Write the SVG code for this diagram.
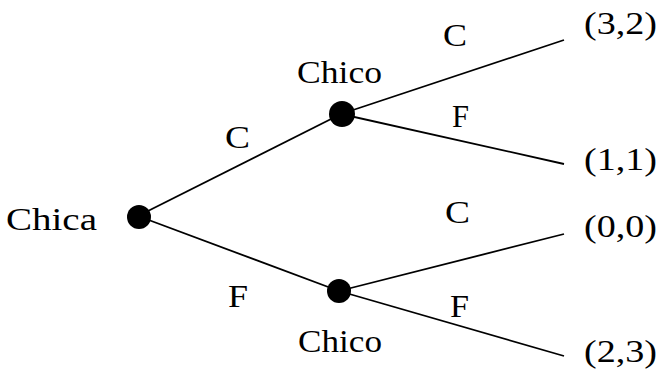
<svg xmlns="http://www.w3.org/2000/svg" width="661" height="370" viewBox="0 0 661 370">
<style>
text{font-family:"Liberation Serif","Times New Roman",serif;font-size:31px;fill:#000}
.e{stroke:#000;stroke-width:1.8;fill:none}
.n{fill:#000}
</style>
<rect width="661" height="370" fill="#fff"/>
<g id="connectors">
<line class="e" x1="138" y1="216" x2="341" y2="114"/>
<line class="e" x1="138" y1="216" x2="339" y2="291"/>
<line class="e" x1="341" y1="114" x2="564" y2="40"/>
<line class="e" x1="341" y1="114" x2="564" y2="164"/>
<line class="e" x1="339" y1="291" x2="564" y2="234"/>
<line class="e" x1="339" y1="291" x2="564" y2="356"/>
<text x="225" y="148" textLength="25" lengthAdjust="spacingAndGlyphs">C</text>
<text x="228" y="307" textLength="20" lengthAdjust="spacingAndGlyphs">F</text>
<text x="443" y="46" textLength="24" lengthAdjust="spacingAndGlyphs">C</text>
<text x="452" y="127" textLength="17" lengthAdjust="spacingAndGlyphs">F</text>
<text x="445" y="223" textLength="25" lengthAdjust="spacingAndGlyphs">C</text>
<text x="450" y="317" textLength="19" lengthAdjust="spacingAndGlyphs">F</text>
</g>
<g id="root">
<circle class="n" cx="139" cy="217" r="12"/>
<text x="6" y="230" textLength="91" lengthAdjust="spacingAndGlyphs">Chica</text>
</g>
<g id="chico-top">
<circle class="n" cx="342" cy="114" r="13"/>
<text x="297" y="83" textLength="85" lengthAdjust="spacingAndGlyphs">Chico</text>
</g>
<g id="chico-bottom">
<circle class="n" cx="339" cy="291" r="12"/>
<text x="298" y="352" textLength="84" lengthAdjust="spacingAndGlyphs">Chico</text>
</g>
<g id="leaf-32"><text x="584" y="34" textLength="73" lengthAdjust="spacingAndGlyphs">(3,2)</text></g>
<g id="leaf-11"><text x="584" y="170" textLength="73" lengthAdjust="spacingAndGlyphs">(1,1)</text></g>
<g id="leaf-00"><text x="584" y="237" textLength="73" lengthAdjust="spacingAndGlyphs">(0,0)</text></g>
<g id="leaf-23"><text x="584" y="362" textLength="73" lengthAdjust="spacingAndGlyphs">(2,3)</text></g>
</svg>
